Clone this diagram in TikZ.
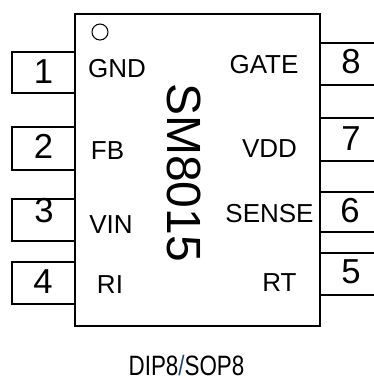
\documentclass[tikz,border=0pt]{standalone}
\usepackage{fontspec}
\setmainfont{Liberation Sans}
\definecolor{slashblue}{RGB}{31,73,125}
\begin{document}
\begin{tikzpicture}[x=0.75pt,y=0.75pt,yscale=-1,xscale=1,
    pinnum/.style={anchor=base,inner sep=0pt,font=\fontsize{26}{28}\selectfont},
    pinlabel/.style={anchor=base,inner sep=0pt,font=\fontsize{19.5}{21}\selectfont}]
    \useasboundingbox (0,0) rectangle (374,380);
    %Shape: Rectangle [id:body]
    \draw[line width=1.1pt] (75,14) rectangle (320,326);
    %Shape: Circle [id:dot]
    \draw[line width=0.8pt] (100,32) circle (8);
    %Shape: Rectangle [id:pins left]
    \draw[line width=1.1pt] (12,52) rectangle (75,93);
    \draw[line width=1.1pt] (12,127) rectangle (75,170);
    \draw[line width=1.1pt] (12,199) rectangle (75,241);
    \draw[line width=1.1pt] (12,262) rectangle (75,304);
    %Straight Lines [id:pins right]
    \draw[line width=1.1pt] (320,43) -- (378,43) (320,85) -- (378,85);
    \draw[line width=1.1pt] (320,118) -- (378,118) (320,161) -- (378,161);
    \draw[line width=1.1pt] (320,192) -- (378,192) (320,232) -- (378,232);
    \draw[line width=1.1pt] (320,253) -- (378,253) (320,295) -- (378,295);
    % Text Node
    \node[pinnum] (n1) at (43.5,83) {1};
    \node[pinnum] (n2) at (43.5,158) {2};
    \node[pinnum] (n3) at (44,222) {3};
    \node[pinnum] (n4) at (43,293) {4};
    \node[pinnum] (n8) at (351,73) {8};
    \node[pinnum] (n7) at (351,150) {7};
    \node[pinnum] (n6) at (350,222) {6};
    \node[pinnum] (n5) at (351,283) {5};
    % Text Node
    \node[pinlabel] (gnd) at (117,77) {GND};
    \node[pinlabel] (fb) at (107.5,159) {FB};
    \node[pinlabel] (vin) at (111,233) {VIN};
    \node[pinlabel] (ri) at (110,293) {RI};
    \node[pinlabel] (gate) at (264,73) {GATE};
    \node[pinlabel] (vdd) at (269.5,157) {VDD};
    \node[pinlabel] (sense) at (269.5,222) {SENSE};
    \node[pinlabel] (rt) at (279.5,291) {RT};
    % Text Node
    \node[anchor=base,inner sep=0pt,rotate=-90,font=\fontsize{36}{38}\selectfont] (chip) at (168,172.5) {SM8015};
    % Text Node
    \node[anchor=base,inner sep=0pt,xscale=0.8,font=\fontsize{21}{23}\selectfont] (pkg) at (186.5,375.5) {DIP8{\color{slashblue}/}SOP8};
\end{tikzpicture}
\end{document}
